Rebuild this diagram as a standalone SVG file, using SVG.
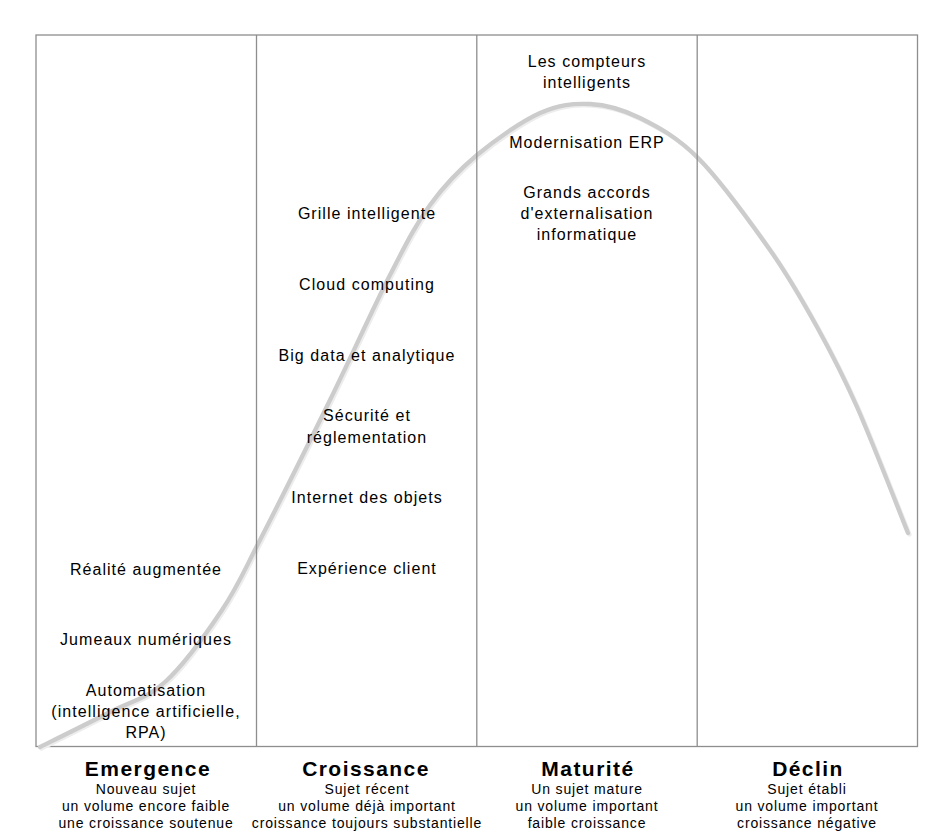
<svg xmlns="http://www.w3.org/2000/svg" width="952" height="838" viewBox="0 0 952 838">
<style>
.frame{fill:none;stroke:#8e8e8e;stroke-width:1.3}
.div{stroke:#8e8e8e;stroke-width:1.3}
.curve{fill:none;stroke:#cccccc;stroke-width:4.3;stroke-linecap:round;stroke-linejoin:round}
.shadow{fill:none;stroke:#ededed;stroke-width:4.3;stroke-linecap:round}
.item{font-family:"Liberation Sans",Arial,sans-serif;font-size:16px;letter-spacing:1.05px;fill:#000;text-anchor:middle}
.head{font-family:"Liberation Sans",Arial,sans-serif;font-size:21px;font-weight:bold;letter-spacing:1.45px;fill:#000;text-anchor:middle}
.desc{font-family:"Liberation Sans",Arial,sans-serif;font-size:14px;letter-spacing:0.85px;fill:#000;text-anchor:middle}
</style>
<rect width="952" height="838" fill="#fff"/>
<g id="frame">
<rect class="frame" x="36" y="35" width="881.5" height="711.5"/>
</g>
<g id="connectors">
<path class="shadow" transform="translate(1.5,1.5)" d="M40,747 C51.7,741.2 89.2,722.8 110,712 C130.8,701.2 146.3,699 165,682 C183.7,665 206.2,633.7 222,610 C237.8,586.3 242,575 260,540 C278,505 308.3,444.2 330,400 C351.7,355.8 373.3,307.5 390,275 C406.7,242.5 415.5,225 430,205 C444.5,185 458.7,170.3 477,155 C495.3,139.7 521.2,121.5 540,113 C558.8,104.5 573.3,103.2 590,104 C606.7,104.8 622.2,109.2 640,118 C657.8,126.8 677.3,137 699,159 C720.7,181 750,221.7 770,250 C790,278.3 802.5,300.8 817,327 C831.5,353.2 841.8,372.7 857,407 C872.2,441.3 899.5,512 908,533"/>
<path class="curve" d="M40,747 C51.7,741.2 89.2,722.8 110,712 C130.8,701.2 146.3,699 165,682 C183.7,665 206.2,633.7 222,610 C237.8,586.3 242,575 260,540 C278,505 308.3,444.2 330,400 C351.7,355.8 373.3,307.5 390,275 C406.7,242.5 415.5,225 430,205 C444.5,185 458.7,170.3 477,155 C495.3,139.7 521.2,121.5 540,113 C558.8,104.5 573.3,103.2 590,104 C606.7,104.8 622.2,109.2 640,118 C657.8,126.8 677.3,137 699,159 C720.7,181 750,221.7 770,250 C790,278.3 802.5,300.8 817,327 C831.5,353.2 841.8,372.7 857,407 C872.2,441.3 899.5,512 908,533"/>
</g>
<g id="dividers">
<line class="div" x1="256.5" y1="35" x2="256.5" y2="746.5"/>
<line class="div" x1="476.8" y1="35" x2="476.8" y2="746.5"/>
<line class="div" x1="697.2" y1="35" x2="697.2" y2="746.5"/>
</g>
<g id="col-emergence">
<text class="item" x="146" y="575">Réalité augmentée</text>
<text class="item" x="146" y="645">Jumeaux numériques</text>
<text class="item" x="146" y="696">Automatisation</text>
<text class="item" x="146" y="717">(intelligence artificielle,</text>
<text class="item" x="146" y="738">RPA)</text>
<text class="head" x="148" y="776">Emergence</text>
<text class="desc" x="146" y="794">Nouveau sujet</text>
<text class="desc" x="146" y="811">un volume encore faible</text>
<text class="desc" x="146" y="828">une croissance soutenue</text>
</g>
<g id="col-croissance">
<text class="item" x="367" y="219">Grille intelligente</text>
<text class="item" x="367" y="290">Cloud computing</text>
<text class="item" x="367" y="361">Big data et analytique</text>
<text class="item" x="367" y="421">Sécurité et</text>
<text class="item" x="367" y="443">réglementation</text>
<text class="item" x="367" y="503">Internet des objets</text>
<text class="item" x="367" y="574">Expérience client</text>
<text class="head" x="366" y="776">Croissance</text>
<text class="desc" x="367" y="794">Sujet récent</text>
<text class="desc" x="367" y="811">un volume déjà important</text>
<text class="desc" x="367" y="828">croissance toujours substantielle</text>
</g>
<g id="col-maturite">
<text class="item" x="587" y="67">Les compteurs</text>
<text class="item" x="587" y="88">intelligents</text>
<text class="item" x="587" y="148">Modernisation ERP</text>
<text class="item" x="587" y="198">Grands accords</text>
<text class="item" x="587" y="219">d'externalisation</text>
<text class="item" x="587" y="240">informatique</text>
<text class="head" x="588" y="776">Maturité</text>
<text class="desc" x="587" y="794">Un sujet mature</text>
<text class="desc" x="587" y="811">un volume important</text>
<text class="desc" x="587" y="828">faible croissance</text>
</g>
<g id="col-declin">
<text class="head" x="808" y="776">Déclin</text>
<text class="desc" x="807" y="794">Sujet établi</text>
<text class="desc" x="807" y="811">un volume important</text>
<text class="desc" x="807" y="828">croissance négative</text>
</g>
</svg>
